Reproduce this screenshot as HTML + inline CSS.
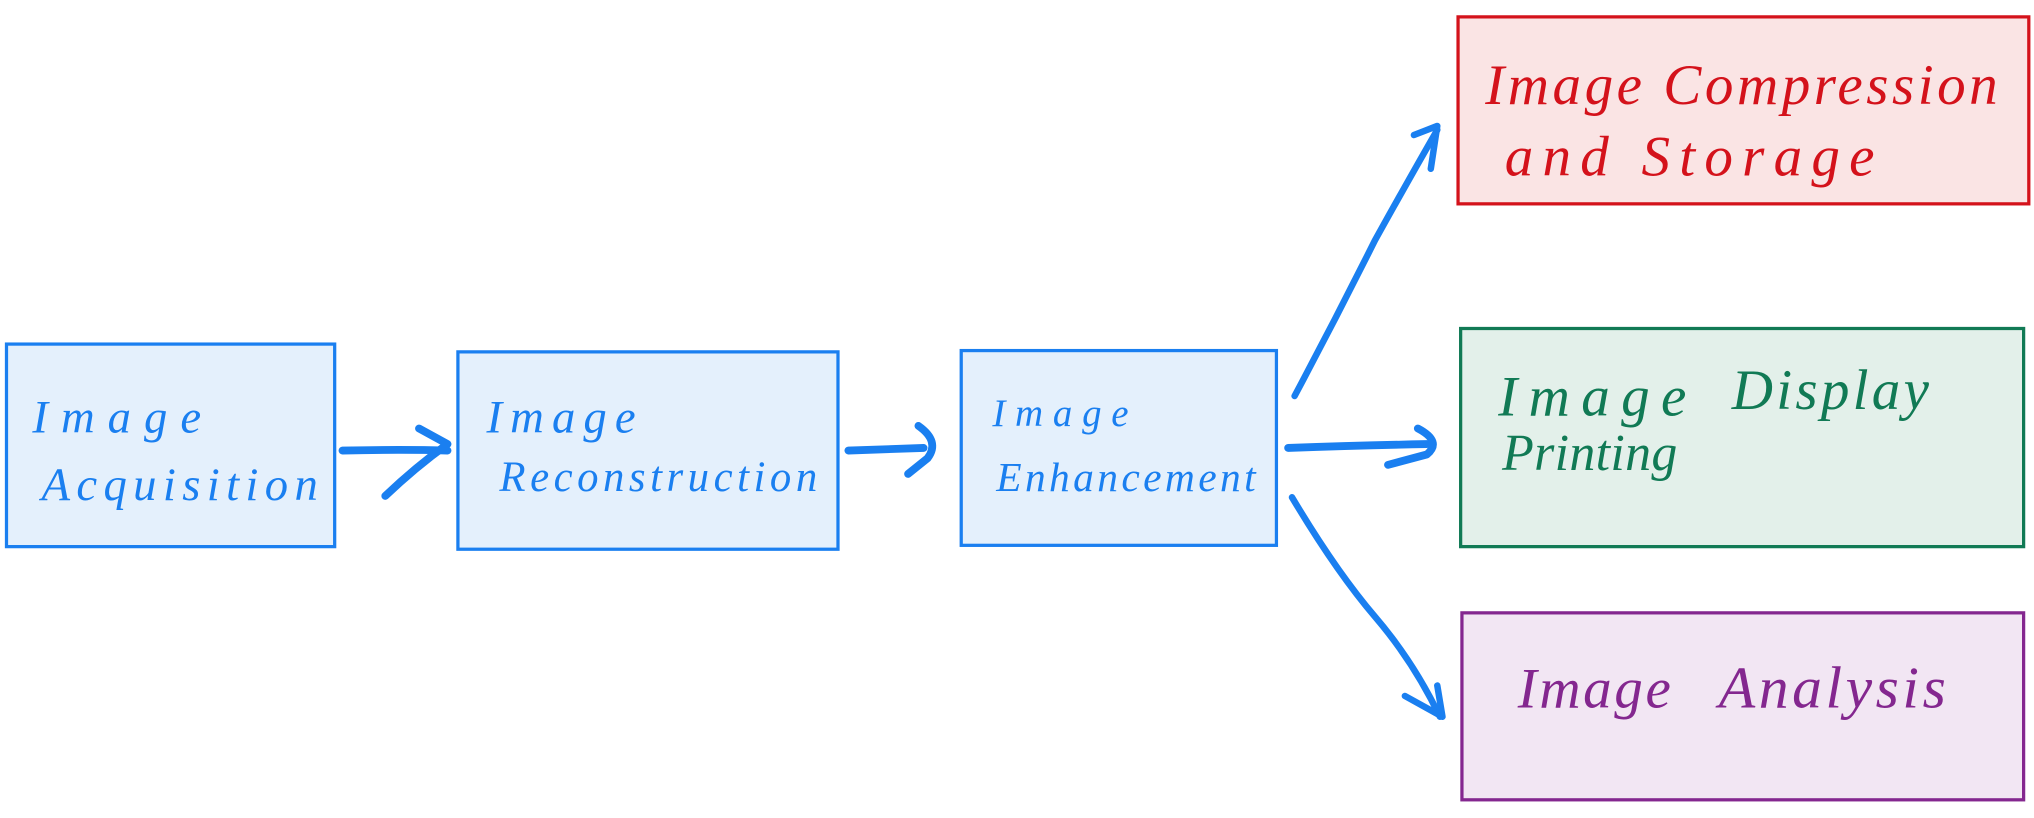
<!DOCTYPE html>
<html><head><meta charset="utf-8"><style>
html,body{margin:0;padding:0;background:#fff;width:2034px;height:818px;overflow:hidden}
svg{display:block}
text{font-family:"Liberation Serif",serif;font-style:italic}
</style></head><body>
<svg width="2034" height="818" viewBox="0 0 1568 630" preserveAspectRatio="none">
<g stroke-width="2.5">
<rect x="5" y="265" width="253" height="156" fill="#e4f0fc" stroke="#1a7ff0"/>
<rect x="353" y="271" width="293" height="152" fill="#e4f0fc" stroke="#1a7ff0"/>
<rect x="741" y="270" width="243" height="150" fill="#e4f0fc" stroke="#1a7ff0"/>
<rect x="1124" y="13" width="440" height="144" fill="#fae4e4" stroke="#d4121b"/>
<rect x="1126" y="253" width="434" height="168" fill="#e3f0ea" stroke="#117a55"/>
<rect x="1127" y="472" width="433" height="144" fill="#f2e6f3" stroke="#84278f"/>
</g>
<g fill="none" stroke="#1a7ff0" stroke-width="6" stroke-linecap="round" stroke-linejoin="round">
<path d="M264 347 Q310 346 345 347"/><path d="M323 330 L345 342 Q320 360 297 382"/>
<path d="M654 347 Q680 346 712 345"/><path d="M708 328 Q725 340 715 353 L700 365"/>
<path d="M993 345 Q1050 343 1100 342"/><path d="M1093 330 Q1112 340 1100 350 L1070 358"/>
<path d="M998 305 Q1030 245 1060 185 Q1085 140 1108 100" stroke-width="5"/><path d="M1090 104 L1108 97 L1103 130" stroke-width="5"/>
<path d="M996 383 Q1030 440 1060 475 Q1090 510 1110 552" stroke-width="5"/><path d="M1083 536 L1112 552 L1108 528" stroke-width="5"/>
</g>
<g fill="#1a7ff0" font-size="36">
<text x="25" y="333" textLength="130" lengthAdjust="spacing">Image</text><text x="32" y="385" textLength="213" lengthAdjust="spacing">Acquisition</text>
<text x="375" y="333" textLength="115" lengthAdjust="spacing">Image</text><text x="385" y="378" font-size="33" textLength="245" lengthAdjust="spacing">Reconstruction</text>
<text x="765" y="328" font-size="30" textLength="105" lengthAdjust="spacing">Image</text><text x="768" y="378" font-size="32" textLength="200" lengthAdjust="spacing">Enhancement</text>
</g>
<text x="1145" y="80" fill="#d4121b" font-size="44" textLength="395" lengthAdjust="spacing">Image Compression</text>
<text x="1160" y="135" fill="#d4121b" font-size="44" textLength="285" lengthAdjust="spacing">and Storage</text>
<text x="1155" y="320" fill="#117a55" font-size="44" textLength="145" lengthAdjust="spacing">Image</text>
<text x="1335" y="315" fill="#117a55" font-size="44" textLength="152" lengthAdjust="spacing">Display</text>
<text x="1158" y="362" fill="#117a55" font-size="40" textLength="135" lengthAdjust="spacing">Printing</text>
<text x="1170" y="545" fill="#84278f" font-size="44" textLength="118" lengthAdjust="spacing">Image</text>
<text x="1325" y="545" fill="#84278f" font-size="46" textLength="175" lengthAdjust="spacing">Analysis</text>
</svg>
</body></html>
